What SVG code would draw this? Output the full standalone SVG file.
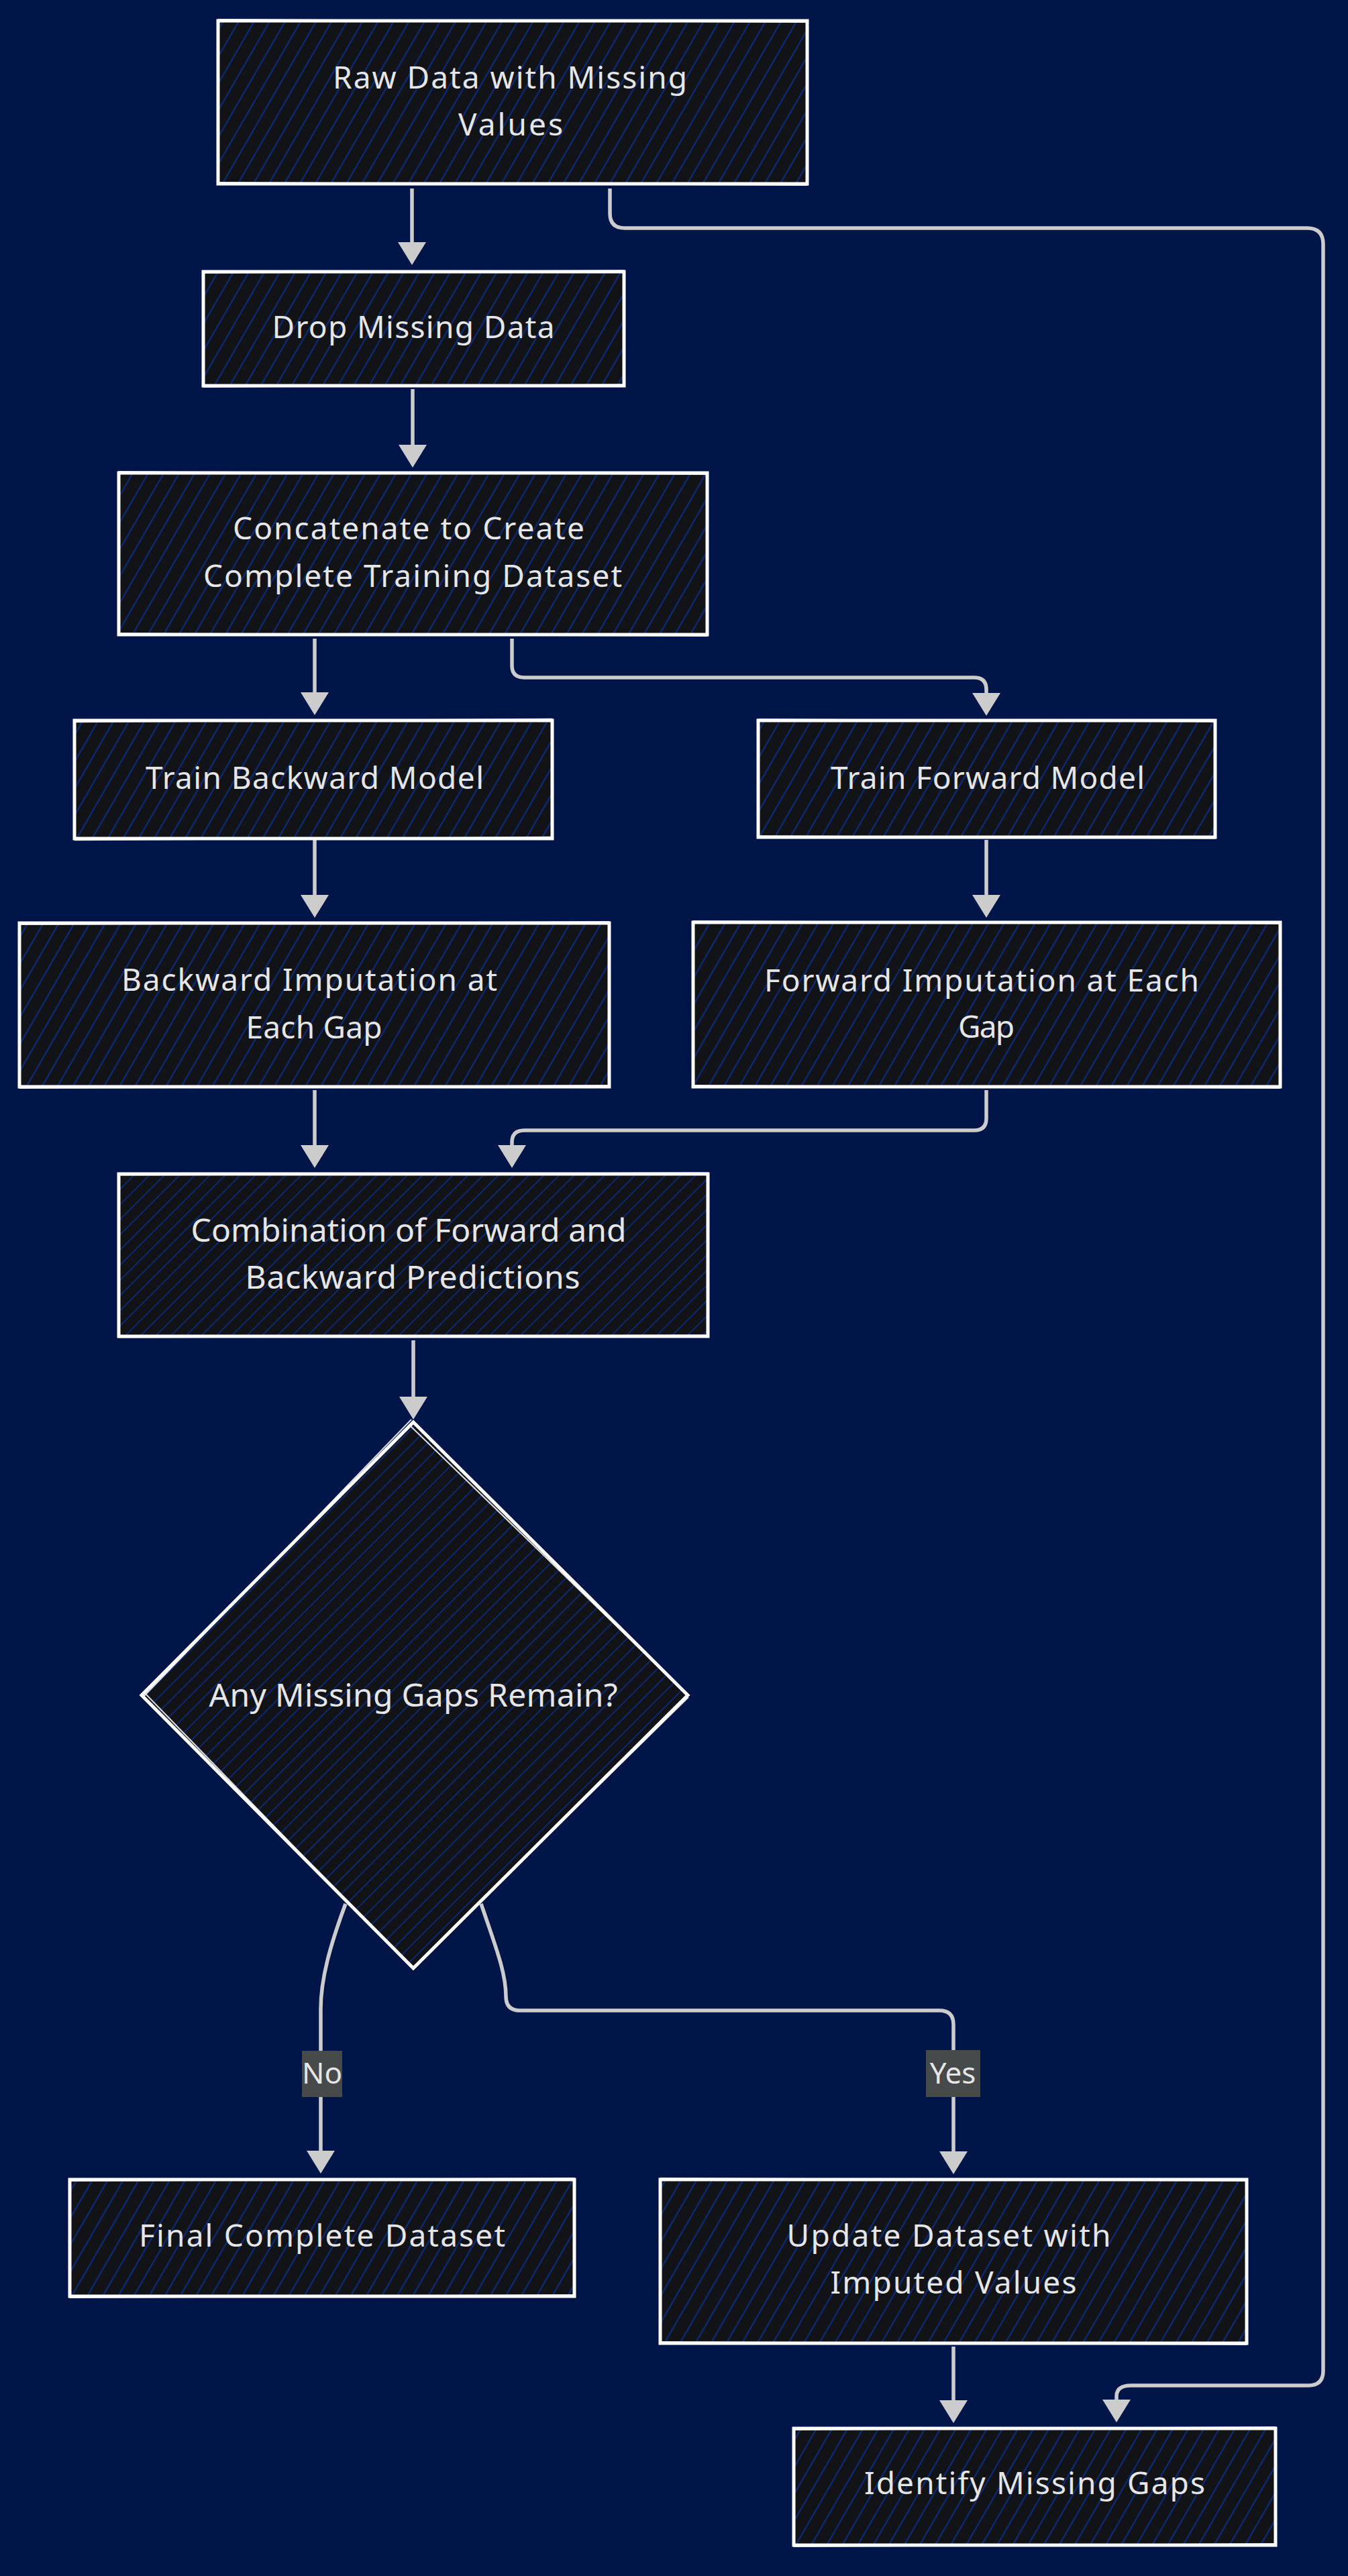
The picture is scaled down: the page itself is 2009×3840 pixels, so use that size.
<svg xmlns="http://www.w3.org/2000/svg" width="2009" height="3840" viewBox="0 0 2009 3840">
<defs>
<pattern id="hatch" patternUnits="userSpaceOnUse" width="20" height="20" patternTransform="rotate(30)">
<rect width="20" height="20" fill="#121316"/>
<line x1="4" y1="0" x2="4" y2="20" stroke="#0d2a7a" stroke-width="2.2"/>
</pattern>
<pattern id="hatch45" patternUnits="userSpaceOnUse" width="16" height="16" patternTransform="rotate(45)">
<rect width="16" height="16" fill="#121316"/>
<line x1="4" y1="0" x2="4" y2="16" stroke="#0d2a7a" stroke-width="1.8"/>
</pattern>
<marker id="arrow" markerUnits="userSpaceOnUse" markerWidth="34" markerHeight="42" viewBox="0 0 34 42" refX="1" refY="21" orient="auto">
<path d="M0,0 L34,21 L0,42 Z" fill="#cccccc"/>
</marker>
<style>
.node{fill:url(#hatch)}
.node45{fill:url(#hatch45)}
.b1{fill:none;stroke:#ffffff;stroke-width:5}
.b2{fill:none;stroke:#ffffff;stroke-width:2;opacity:0.85}
.edge{fill:none;stroke:#cccccc;stroke-width:5.5;marker-end:url(#arrow)}
.t{font-family:"Noto Sans","Liberation Sans",sans-serif;font-size:46px;fill:#e6e6e6;text-anchor:middle}
.tw{font-family:"Noto Sans","Liberation Sans",sans-serif;font-size:48px;fill:#e6e6e6;text-anchor:middle}
.lbl{fill:#474a4a}
.lt{font-family:"Noto Sans","Liberation Sans",sans-serif;font-size:44px;fill:#e6e6e6;text-anchor:middle}
</style>
</defs>
<rect x="0" y="0" width="2009" height="3840" fill="#001547"/>

<g id="connectors">
<path class="edge" d="M614,281 V362"/>
<path class="edge" d="M615,580 V664"/>
<path class="edge" d="M469,952 V1033"/>
<path class="edge" d="M763,952 V992 Q763,1010 781,1010 H1452 Q1470,1010 1470,1028 V1034"/>
<path class="edge" d="M469,1252 V1335"/>
<path class="edge" d="M1470,1252 V1335"/>
<path class="edge" d="M469,1625 V1708"/>
<path class="edge" d="M1470,1625 V1667 Q1470,1685 1452,1685 H781 Q763,1685 763,1703 V1708"/>
<path class="edge" d="M616,1998 V2083"/>
<path class="edge" d="M515,2838 C492,2900 478,2950 478,2995 V3207"/>
<path class="edge" d="M717,2838 C738,2900 754,2940 754,2976 Q754,2997 775,2997 H1400 Q1421,2997 1421,3018 V3208"/>
<path class="edge" d="M1421,3498 V3579"/>
<path class="edge" d="M909,281 V318 Q909,340 931,340 H1948 Q1972,340 1972,364 V3534 Q1972,3556 1950,3556 H1686 Q1664,3556 1664,3572 V3578"/>
<rect class="lbl" x="450" y="3057" width="60" height="69"/>
<text class="lt" x="480" y="3106">No</text>
<rect class="lbl" x="1380" y="3056" width="81" height="70"/>
<text class="lt" x="1420" y="3106">Yes</text>
</g>

<g id="raw">
<rect class="node" x="325" y="31" width="878" height="243"/>
<rect class="b1" x="325" y="31" width="878" height="243"/>
<rect class="b2" x="325" y="31" width="878" height="243" transform="rotate(0.25 764 152)"/>
<text class="t" x="760" y="132" textLength="528" lengthAdjust="spacing">Raw Data with Missing</text>
<text class="t" x="761" y="202" textLength="156" lengthAdjust="spacing">Values</text>
</g>

<g id="drop">
<rect class="node" x="303" y="405" width="627" height="170"/>
<rect class="b1" x="303" y="405" width="627" height="170"/>
<rect class="b2" x="303" y="405" width="627" height="170" transform="rotate(-0.3 616 490)"/>
<text class="t" x="616" y="504" textLength="421" lengthAdjust="spacing">Drop Missing Data</text>
</g>

<g id="concat">
<rect class="node" x="177" y="705" width="877" height="241"/>
<rect class="b1" x="177" y="705" width="877" height="241"/>
<rect class="b2" x="177" y="705" width="877" height="241" transform="rotate(0.25 615 825)"/>
<text class="t" x="609" y="804" textLength="524" lengthAdjust="spacing">Concatenate to Create</text>
<text class="t" x="615" y="875" textLength="624" lengthAdjust="spacing">Complete Training Dataset</text>
</g>

<g id="trainBack">
<rect class="node" x="111" y="1074" width="712" height="176"/>
<rect class="b1" x="111" y="1074" width="712" height="176"/>
<rect class="b2" x="111" y="1074" width="712" height="176" transform="rotate(-0.35 467 1162)"/>
<text class="t" x="469" y="1176" textLength="504" lengthAdjust="spacing">Train Backward Model</text>
</g>

<g id="trainFwd">
<rect class="node" x="1130" y="1074" width="681" height="174"/>
<rect class="b1" x="1130" y="1074" width="681" height="174"/>
<rect class="b2" x="1130" y="1074" width="681" height="174" transform="rotate(0.3 1470 1161)"/>
<text class="t" x="1472" y="1176" textLength="468" lengthAdjust="spacing">Train Forward Model</text>
</g>

<g id="backImp">
<rect class="node" x="29" y="1376" width="879" height="244"/>
<rect class="b1" x="29" y="1376" width="879" height="244"/>
<rect class="b2" x="29" y="1376" width="879" height="244" transform="rotate(-0.25 468 1498)"/>
<text class="t" x="461" y="1477" textLength="560" lengthAdjust="spacing">Backward Imputation at</text>
<text class="t" x="468" y="1548" textLength="203" lengthAdjust="spacing">Each Gap</text>
</g>

<g id="fwdImp">
<rect class="node" x="1033" y="1375" width="875" height="245"/>
<rect class="b1" x="1033" y="1375" width="875" height="245"/>
<rect class="b2" x="1033" y="1375" width="875" height="245" transform="rotate(0.25 1470 1497)"/>
<text class="t" x="1463" y="1478" textLength="648" lengthAdjust="spacing">Forward Imputation at Each</text>
<text class="t" x="1470" y="1547" textLength="84" lengthAdjust="spacing">Gap</text>
</g>

<g id="combine">
<rect class="node45" x="177" y="1750" width="878" height="242"/>
<rect class="b1" x="177" y="1750" width="878" height="242"/>
<rect class="b2" x="177" y="1750" width="878" height="242" transform="rotate(-0.2 616 1871)"/>
<text class="tw" x="609" y="1851" textLength="649" lengthAdjust="spacing">Combination of Forward and</text>
<text class="tw" x="615" y="1921" textLength="499" lengthAdjust="spacing">Backward Predictions</text>
</g>

<g id="decision">
<path class="node45" d="M616,2120 L1025,2527 L616,2934 L211,2527 Z"/>
<path class="b1" d="M616,2120 L1025,2527 L616,2934 L211,2527 Z"/>
<path class="b2" d="M610,2124 L1022,2524 M1026,2530 L619,2930 M612,2932 L214,2522 M213,2530 L613,2116"/>
<text class="tw" x="616" y="2544" textLength="609" lengthAdjust="spacing">Any Missing Gaps Remain?</text>
</g>

<g id="final">
<rect class="node" x="104" y="3249" width="752" height="174"/>
<rect class="b1" x="104" y="3249" width="752" height="174"/>
<rect class="b2" x="104" y="3249" width="752" height="174" transform="rotate(-0.3 480 3336)"/>
<text class="t" x="480" y="3349" textLength="546" lengthAdjust="spacing">Final Complete Dataset</text>
</g>

<g id="update">
<rect class="node" x="984" y="3249" width="874" height="244"/>
<rect class="b1" x="984" y="3249" width="874" height="244"/>
<rect class="b2" x="984" y="3249" width="874" height="244" transform="rotate(0.25 1421 3371)"/>
<text class="t" x="1414" y="3349" textLength="483" lengthAdjust="spacing">Update Dataset with</text>
<text class="t" x="1421" y="3419" textLength="367" lengthAdjust="spacing">Imputed Values</text>
</g>

<g id="identify">
<rect class="node" x="1183" y="3620" width="718" height="174"/>
<rect class="b1" x="1183" y="3620" width="718" height="174"/>
<rect class="b2" x="1183" y="3620" width="718" height="174" transform="rotate(-0.3 1542 3707)"/>
<text class="t" x="1542" y="3718" textLength="508" lengthAdjust="spacing">Identify Missing Gaps</text>
</g>
</svg>
